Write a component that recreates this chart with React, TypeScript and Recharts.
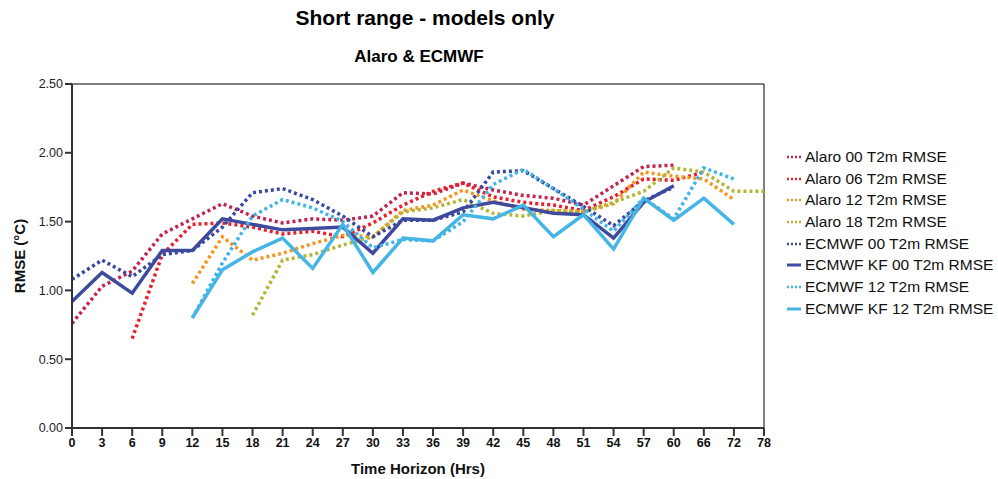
import { LineChart, Line, XAxis, YAxis, Legend, ReferenceLine } from "recharts";

const hours = ["0", "3", "6", "9", "12", "15", "18", "21", "24", "27", "30", "33", "36", "39", "42", "45", "48", "51", "54", "57", "60", "66", "72", "78"];

const alaro00 = [0.76, 1.03, 1.14, 1.41, 1.52, 1.63, 1.54, 1.49, 1.52, 1.51, 1.54, 1.71, 1.70, 1.78, 1.73, 1.69, 1.67, 1.62, 1.76, 1.90, 1.91, null, null, null];
const alaro06 = [null, null, 0.65, 1.26, 1.48, 1.49, 1.46, 1.41, 1.43, 1.39, 1.49, 1.62, 1.72, 1.78, 1.68, 1.64, 1.62, 1.58, 1.68, 1.81, 1.80, 1.86, null, null];
const alaro12 = [null, null, null, null, 1.05, 1.39, 1.22, 1.27, 1.34, 1.40, 1.39, 1.58, 1.62, 1.73, 1.65, 1.59, 1.58, 1.57, 1.63, 1.86, 1.83, 1.81, 1.66, null];
const alaro18 = [null, null, null, null, null, null, 0.82, 1.22, 1.26, 1.33, 1.39, 1.57, 1.60, 1.66, 1.56, 1.54, 1.58, 1.57, 1.64, 1.72, 1.89, 1.86, 1.72, 1.72];
const ecmwf00 = [1.08, 1.22, 1.10, 1.26, 1.29, 1.46, 1.71, 1.74, 1.66, 1.54, 1.39, 1.51, 1.51, 1.57, 1.86, 1.87, 1.74, 1.61, 1.47, 1.65, 1.75, null, null, null];
const ecmwfKf00 = [0.92, 1.13, 0.98, 1.29, 1.29, 1.52, 1.48, 1.44, 1.45, 1.46, 1.27, 1.52, 1.51, 1.60, 1.64, 1.60, 1.56, 1.55, 1.38, 1.64, 1.76, null, null, null];
const ecmwf12 = [null, null, null, null, 0.80, 1.20, 1.54, 1.66, 1.60, 1.50, 1.31, 1.37, 1.36, 1.50, 1.77, 1.88, 1.74, 1.59, 1.43, 1.67, 1.52, 1.89, 1.81, null];
const ecmwfKf12 = [null, null, null, null, 0.80, 1.15, 1.28, 1.38, 1.16, 1.48, 1.13, 1.38, 1.36, 1.55, 1.52, 1.62, 1.39, 1.55, 1.30, 1.67, 1.51, 1.67, 1.48, null];

const yTicks = [0, 0.5, 1, 1.5, 2, 2.5];

const series = [
  { key: "a00", name: "Alaro 00 T2m RMSE", values: alaro00, color: "#c4234f", dotted: true },
  { key: "a06", name: "Alaro 06 T2m RMSE", values: alaro06, color: "#e8202a", dotted: true },
  { key: "a12", name: "Alaro 12 T2m RMSE", values: alaro12, color: "#f7941d", dotted: true },
  { key: "a18", name: "Alaro 18 T2m RMSE", values: alaro18, color: "#b3b538", dotted: true },
  { key: "e00", name: "ECMWF 00 T2m RMSE", values: ecmwf00, color: "#3b48a0", dotted: true },
  { key: "k00", name: "ECMWF KF 00 T2m RMSE", values: ecmwfKf00, color: "#3d4a9e", dotted: false },
  { key: "e12", name: "ECMWF 12 T2m RMSE", values: ecmwf12, color: "#3fb4e6", dotted: true },
  { key: "k12", name: "ECMWF KF 12 T2m RMSE", values: ecmwfKf12, color: "#45b5e5", dotted: false },
];

const data = hours.map((h, i) => {
  const row: any = { hour: h };
  series.forEach((s) => {
    row[s.key] = s.values[i];
  });
  return row;
});

const font = "'Liberation Sans', Arial, sans-serif";

function LegendBox() {
  return (
    <div style={{ fontFamily: font, fontSize: 15.5, color: "#111" }}>
      {series.map((s) => (
        <div key={s.key} style={{ display: "flex", alignItems: "center", height: 21.7 }}>
          <svg width={16} height={10} style={{ marginRight: 3 }}>
            <line
              x1={1}
              y1={5}
              x2={15}
              y2={5}
              stroke={s.color}
              strokeWidth={s.dotted ? 2.5 : 3}
              strokeDasharray={s.dotted ? "2 2" : undefined}
            />
          </svg>
          <span>{s.name}</span>
        </div>
      ))}
    </div>
  );
}

export default function App() {
  return (
    <div style={{ position: "absolute", left: 0, top: 0, width: 998, height: 479, background: "#fff", fontFamily: font }}>
      <div style={{ position: "absolute", left: 0, width: 850, top: 6, textAlign: "center", fontWeight: "bold", fontSize: 21 }}>
        Short range - models only
      </div>
      <div style={{ position: "absolute", left: 0, width: 838, top: 47, textAlign: "center", fontWeight: "bold", fontSize: 17 }}>
        Alaro &amp; ECMWF
      </div>
      <LineChart width={998} height={479} data={data} margin={{ top: 84, right: 234, left: 12, bottom: 21 }}>
        <XAxis
          dataKey="hour"
          interval={0}
          stroke="#333"
          strokeWidth={2}
          tickSize={8}
          tick={{ fontSize: 12.5, fontWeight: "bold", fill: "#111", fontFamily: "'Liberation Sans Narrow', 'Liberation Sans', Arial" }}
          height={30}
          label={{ value: "Time Horizon (Hrs)", position: "insideBottom", offset: -16, fontSize: 15, fontWeight: "bold", fill: "#111" }}
        />
        <YAxis
          domain={[0, 2.5]}
          ticks={yTicks}
          tickFormatter={(v: number) => v.toFixed(2)}
          stroke="#333"
          strokeWidth={2}
          tickSize={7}
          width={60}
          tick={{ fontSize: 12.5, fill: "#222" }}
          label={{ value: "RMSE (°C)", angle: -90, position: "insideLeft", offset: 8, fontSize: 15, fontWeight: "bold", fill: "#111", style: { textAnchor: "middle" } }}
        />
        <ReferenceLine y={2.5} stroke="#555" strokeWidth={1.5} />
        <ReferenceLine x="78" stroke="#555" strokeWidth={1.5} />
        {series.map((s) => (
          <Line
            key={s.key}
            dataKey={s.key}
            name={s.name}
            type="linear"
            stroke={s.color}
            strokeWidth={3.5}
            strokeDasharray={s.dotted ? "3 3" : undefined}
            dot={false}
            activeDot={false}
            isAnimationActive={false}
          />
        ))}
        <Legend
          layout="vertical"
          align="center"
          verticalAlign="middle"
          content={() => <LegendBox />}
          wrapperStyle={{ left: 786, top: 146, width: 212 }}
        />
      </LineChart>
    </div>
  );
}
